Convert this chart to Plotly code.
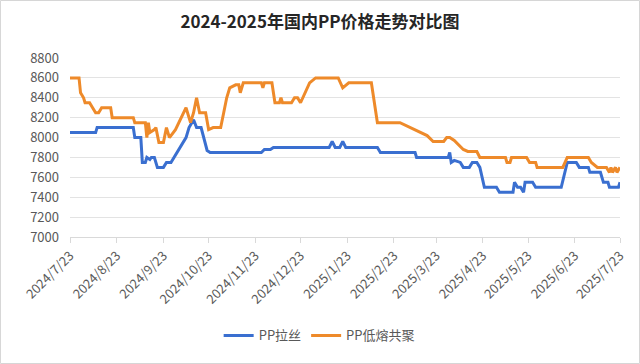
import plotly.graph_objects as go

# PP拉丝 (drawing grade) price points
la_si_dates = [
    "2024-07-23", "2024-08-09", "2024-08-10", "2024-09-03", "2024-09-04", "2024-09-08",
    "2024-09-09", "2024-09-11", "2024-09-12", "2024-09-14", "2024-09-15", "2024-09-17",
    "2024-09-19", "2024-09-23", "2024-09-25", "2024-09-28", "2024-10-08", "2024-10-10",
    "2024-10-13", "2024-10-15", "2024-10-18", "2024-10-22", "2024-10-24", "2024-11-27",
    "2024-11-29", "2024-12-03", "2024-12-05", "2025-01-11", "2025-01-13", "2025-01-15",
    "2025-01-18", "2025-01-20", "2025-01-22", "2025-02-12", "2025-02-14", "2025-03-09",
    "2025-03-10", "2025-03-31", "2025-04-01", "2025-04-02", "2025-04-04", "2025-04-08",
    "2025-04-10", "2025-04-14", "2025-04-16", "2025-04-19", "2025-04-21", "2025-04-24",
    "2025-05-02", "2025-05-04", "2025-05-13", "2025-05-14", "2025-05-16", "2025-05-18",
    "2025-05-20", "2025-05-21", "2025-05-26", "2025-05-28", "2025-06-14", "2025-06-18",
    "2025-06-24", "2025-06-26", "2025-07-02", "2025-07-03", "2025-07-10", "2025-07-12",
    "2025-07-15", "2025-07-16", "2025-07-22", "2025-07-23",
]
la_si_values = [
    8050, 8050, 8100, 8100, 8000, 8000,
    7750, 7750, 7800, 7780, 7800, 7800,
    7700, 7700, 7750, 7750, 8000, 8100,
    8180, 8100, 8100, 7870, 7850, 7850,
    7880, 7880, 7900, 7900, 7960, 7900,
    7900, 7960, 7900, 7900, 7850, 7850,
    7800, 7800, 7850, 7750, 7770, 7750,
    7700, 7700, 7750, 7750, 7700, 7500,
    7500, 7450, 7450, 7550, 7500, 7500,
    7450, 7550, 7550, 7500, 7500, 7750,
    7750, 7700, 7700, 7650, 7650, 7550,
    7550, 7500, 7500, 7550,
]

# PP低熔共聚 (low-melt copolymer) price points
di_rong_dates = [
    "2024-07-23", "2024-07-29", "2024-07-30", "2024-07-31", "2024-08-01", "2024-08-02",
    "2024-08-05", "2024-08-07", "2024-08-09", "2024-08-11", "2024-08-13", "2024-08-19",
    "2024-08-20", "2024-09-03", "2024-09-04", "2024-09-11", "2024-09-12", "2024-09-13",
    "2024-09-14", "2024-09-17", "2024-09-18", "2024-09-20", "2024-09-23", "2024-09-25",
    "2024-09-27", "2024-10-01", "2024-10-06", "2024-10-08", "2024-10-11", "2024-10-13",
    "2024-10-15", "2024-10-17", "2024-10-21", "2024-10-23", "2024-10-26", "2024-10-31",
    "2024-11-02", "2024-11-04", "2024-11-06", "2024-11-10", "2024-11-12", "2024-11-13",
    "2024-11-15", "2024-11-27", "2024-11-28", "2024-11-29", "2024-12-04", "2024-12-06",
    "2024-12-09", "2024-12-10", "2024-12-11", "2024-12-17", "2024-12-19", "2024-12-21",
    "2024-12-23", "2024-12-26", "2024-12-29", "2025-01-02", "2025-01-17", "2025-01-20",
    "2025-01-24", "2025-02-08", "2025-02-12", "2025-02-27", "2025-03-06", "2025-03-12",
    "2025-03-17", "2025-03-21", "2025-03-28", "2025-03-30", "2025-04-01", "2025-04-04",
    "2025-04-10", "2025-04-13", "2025-04-19", "2025-04-21", "2025-05-08", "2025-05-09",
    "2025-05-11", "2025-05-12", "2025-05-22", "2025-05-24", "2025-05-28", "2025-05-29",
    "2025-06-15", "2025-06-18", "2025-07-02", "2025-07-04", "2025-07-08", "2025-07-14",
    "2025-07-16", "2025-07-17", "2025-07-18", "2025-07-20", "2025-07-21", "2025-07-23",
]
di_rong_values = [
    8600, 8600, 8450, 8420, 8400, 8350,
    8350, 8300, 8250, 8250, 8300, 8300,
    8200, 8200, 8150, 8150, 8000, 8150,
    8050, 8080, 8100, 7950, 7950, 8100,
    8000, 8080, 8250, 8300, 8150, 8250,
    8400, 8250, 8250, 8080, 8100, 8100,
    8250, 8400, 8500, 8530, 8530, 8450,
    8550, 8550, 8500, 8550, 8550, 8350,
    8350, 8400, 8350, 8350, 8400, 8400,
    8350, 8450, 8550, 8600, 8600, 8500,
    8550, 8550, 8150, 8150, 8100, 8050,
    8020, 7960, 7960, 8000, 8000, 7970,
    7880, 7860, 7860, 7800, 7800, 7750,
    7750, 7800, 7800, 7750, 7750, 7700,
    7700, 7800, 7800, 7750, 7700, 7700,
    7650, 7700, 7650, 7700, 7650, 7700,
]

x_tick_dates = [
    "2024-07-23", "2024-08-23", "2024-09-23", "2024-10-23", "2024-11-23", "2024-12-23",
    "2025-01-23", "2025-02-23", "2025-03-23", "2025-04-23", "2025-05-23", "2025-06-23",
    "2025-07-23",
]
x_tick_labels = [
    "2024/7/23", "2024/8/23", "2024/9/23", "2024/10/23", "2024/11/23", "2024/12/23",
    "2025/1/23", "2025/2/23", "2025/3/23", "2025/4/23", "2025/5/23", "2025/6/23",
    "2025/7/23",
]
y_ticks = [7000, 7200, 7400, 7600, 7800, 8000, 8200, 8400, 8600, 8800]

BLUE = "#3a6fd0"
ORANGE = "#ee8a2a"
FONT = "Noto Sans CJK SC"

fig = go.Figure()
fig.add_trace(go.Scatter(x=la_si_dates, y=la_si_values, mode="lines", name="PP拉丝",
                         line=dict(color=BLUE, width=3)))
fig.add_trace(go.Scatter(x=di_rong_dates, y=di_rong_values, mode="lines", name="PP低熔共聚",
                         line=dict(color=ORANGE, width=3)))

# thin light frame around the whole picture
fig.add_shape(type="rect", xref="paper", yref="paper",
              x0=-0.1264, x1=1.0355, y0=-0.7067, y1=1.3212,
              line=dict(color="#d6d6d6", width=1), fillcolor="rgba(0,0,0,0)", layer="below")

fig.update_layout(
    width=640, height=364,
    margin=dict(l=70, r=20, t=58, b=127),
    paper_bgcolor="white", plot_bgcolor="white",
    font=dict(family=FONT, size=13, color="#595959"),
    title=dict(text="<b>2024-2025年国内PP价格走势对比图</b>", x=0.5, xanchor="center",
               y=0.94, yanchor="middle",
               font=dict(family=FONT, size=17, color="#262626")),
    showlegend=True,
    legend=dict(orientation="h", x=0.453, xanchor="center", y=-0.55, yanchor="middle",
                font=dict(size=13, color="#595959"), itemwidth=30),
    xaxis=dict(
        type="date",
        range=["2024-07-23", "2025-07-23"],
        tickvals=x_tick_dates, ticktext=x_tick_labels,
        tickangle=-45,
        showgrid=False,
        showline=True, linecolor="#d9d9d9", linewidth=1,
        ticks="outside", ticklen=5, tickcolor="#d9d9d9",
        tickfont=dict(size=13, color="#595959"),
        zeroline=False, automargin=False,
    ),
    yaxis=dict(
        range=[7000, 8800],
        tickvals=y_ticks,
        showgrid=True, gridcolor="#e3e3e3", gridwidth=1,
        zeroline=False, showline=False,
        tickfont=dict(size=13, color="#595959"),
        ticks="", ticklabelstandoff=10, automargin=False,
    ),
)

fig.write_html("out.html", config={"displayModeBar": False},
               post_script="document.body.style.margin='0';")
